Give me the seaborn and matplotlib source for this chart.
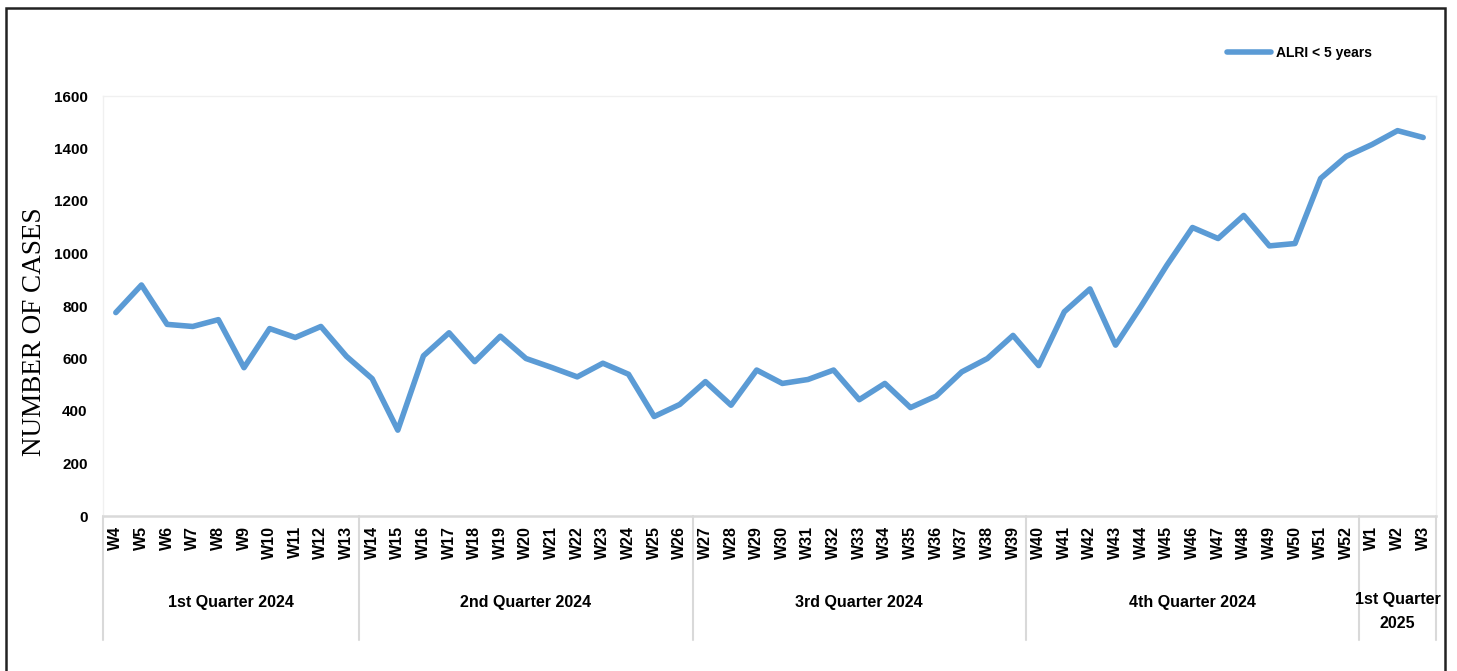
import matplotlib
matplotlib.use("Agg")
import matplotlib.pyplot as plt
import matplotlib.transforms as mtransforms
from matplotlib.patches import Rectangle
import seaborn as sns
import pandas as pd

weeks = ["W4", "W5", "W6", "W7", "W8", "W9", "W10", "W11", "W12", "W13",
         "W14", "W15", "W16", "W17", "W18", "W19", "W20", "W21", "W22", "W23", "W24", "W25", "W26",
         "W27", "W28", "W29", "W30", "W31", "W32", "W33", "W34", "W35", "W36", "W37", "W38", "W39",
         "W40", "W41", "W42", "W43", "W44", "W45", "W46", "W47", "W48", "W49", "W50", "W51", "W52",
         "W1", "W2", "W3"]
cases = [775, 880, 730, 722, 748, 565, 714, 680, 722, 608,
         523, 327, 610, 698, 588, 685, 600, 566, 530, 582, 540, 379, 425,
         512, 422, 556, 505, 520, 556, 443, 505, 413, 457, 549, 600, 688,
         573, 778, 865, 651, 800, 955, 1099, 1057, 1145, 1029, 1038, 1286, 1370,
         1415, 1468, 1442]
quarter_labels = ["1st Quarter 2024", "2nd Quarter 2024", "3rd Quarter 2024",
                  "4th Quarter 2024", "1st Quarter\n2025"]
quarter_sizes = [10, 13, 13, 13, 3]
series_name = "ALRI < 5 years"
yticks = [0, 200, 400, 600, 800, 1000, 1200, 1400, 1600]

sns.set_style("white")
plt.rcParams["font.family"] = ["Liberation Sans", "DejaVu Sans"]
plt.rcParams["text.color"] = "black"
plt.rcParams["xtick.color"] = "black"
plt.rcParams["ytick.color"] = "black"
plt.rcParams["axes.labelcolor"] = "black"

df = pd.DataFrame({"week": weeks, "cases": cases})

fig = plt.figure(figsize=(14.57, 6.71), dpi=100)
ax = fig.add_axes([103 / 1457, 1 - 516 / 671, (1436 - 103) / 1457, (516 - 96) / 671])

line_color = "#5B9BD5"
sns.lineplot(data=df, x="week", y="cases", sort=False, ax=ax, color=line_color,
             linewidth=4.0, label=series_name)

n = len(weeks)
ax.set_xlim(-0.5, n - 0.5)
ax.set_ylim(0, 1600)
ax.set_yticks(yticks)
ax.set_yticklabels([str(v) for v in yticks], fontsize=11, fontweight="bold")
ax.set_xticks(range(n))
ax.set_xticklabels(weeks, rotation=90, fontsize=11.5, fontweight="bold", va="top")
ax.tick_params(axis="y", length=0, pad=11)
ax.tick_params(axis="x", length=0, pad=7)
ax.set_xlabel("")
ax.set_ylabel("NUMBER OF CASES", family=["Liberation Serif", "DejaVu Serif"],
              fontsize=19.5)
ax.yaxis.set_label_coords(-(103 - 47) / 1333, (516 - 332) / 420)

for side in ["top", "left", "right"]:
    ax.spines[side].set_color("#f0f0f0")
    ax.spines[side].set_linewidth(1.0)
ax.spines["bottom"].set_color("#d9d9d9")
ax.spines["bottom"].set_linewidth(1.8)

# quarter separators and labels below the axis
trans = mtransforms.blended_transform_factory(ax.transData, ax.transAxes)
sep_bottom = -(640 - 516) / 420
boundaries = [-0.5]
pos = -0.5
for s in quarter_sizes:
    pos += s
    boundaries.append(pos)
for b in boundaries:
    ax.plot([b, b], [0, sep_bottom], transform=trans, color="#d9d9d9",
            linewidth=1.5, clip_on=False)
for i, lab in enumerate(quarter_labels):
    center = (boundaries[i] + boundaries[i + 1]) / 2
    if "\n" in lab:
        ax.text(center, -(592 - 516) / 420, lab, transform=trans, ha="center", va="top",
                fontsize=11.5, fontweight="bold", linespacing=1.75)
    else:
        ax.text(center, -(602 - 516) / 420, lab, transform=trans, ha="center", va="center",
                fontsize=11.5, fontweight="bold")

leg = ax.legend(loc="center left", bbox_to_anchor=(1227 / 1457, 1 - 53 / 671),
                bbox_transform=fig.transFigure, frameon=False,
                prop={"weight": "bold", "size": 10}, handlelength=3.2,
                handletextpad=0.35, borderpad=0, borderaxespad=0)

# outer figure border (open at the bottom)
fig.add_artist(Rectangle((6 / 1457, -0.05), (1445 - 6) / 1457, 1 - 8 / 671 + 0.05,
                         transform=fig.transFigure, fill=False,
                         edgecolor="#222222", linewidth=1.8))

fig.savefig("out.png", dpi=100)
